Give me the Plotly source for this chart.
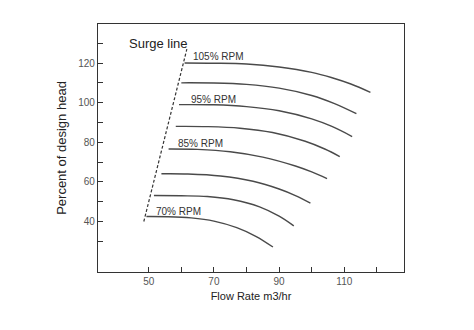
import plotly.graph_objects as go

# Speed curves (flow m3/hr, percent of design head)
curve_105_x = [61.0, 70, 80, 90, 100, 106, 112, 118.0]
curve_105_y = [120.0, 119.9, 119.5, 118.0, 115.3, 112.7, 109.4, 105.2]
curve_100_x = [60.0, 70, 80, 90, 100, 107, 113.7]
curve_100_y = [110.0, 109.9, 109.2, 107.3, 103.6, 99.5, 94.4]
curve_95_x = [59.3, 70, 80, 90, 100, 106, 112.4]
curve_95_y = [99.0, 98.9, 98.0, 95.9, 91.8, 88.1, 82.9]
curve_90_x = [58.3, 68, 78, 88, 98, 104, 108.6]
curve_90_y = [88.0, 87.9, 87.1, 84.9, 80.5, 76.6, 72.8]
curve_85_x = [56.1, 65, 75, 85, 95, 100, 104.7]
curve_85_y = [76.6, 76.4, 75.2, 72.5, 68.0, 65.0, 61.6]
curve_80_x = [53.9, 62, 72, 82, 90, 95, 99.6]
curve_80_y = [64.1, 64.0, 63.0, 60.3, 56.4, 53.1, 49.3]
curve_75_x = [51.6, 60, 68, 76, 84, 90, 94.5]
curve_75_y = [53.1, 53.0, 52.6, 51.0, 47.4, 42.7, 37.8]
curve_70_x = [49.3, 56, 63, 70, 77, 83, 88.1]
curve_70_y = [42.5, 42.4, 41.8, 40.2, 36.9, 32.4, 27.1]

surge_x = [48.5, 61.7]
surge_y = [40.0, 127.0]

rpm_labels = ["105% RPM", "95% RPM", "85% RPM", "70% RPM"]
rpm_label_x = [63.1, 62.3, 58.3, 51.6]
rpm_label_y = [123.3, 101.5, 79.6, 45.1]

x_tickvals = [50, 60, 70, 80, 90, 100, 110, 120]
x_ticktext = ["50", "", "70", "", "90", "", "110", ""]
y_tickvals = [30, 40, 50, 60, 70, 80, 90, 100, 110, 120, 130]
y_ticktext = ["", "40", "", "60", "", "80", "", "100", "", "120", ""]

FONT = "Arial, Liberation Sans, sans-serif"
LINE = "#4a4a4a"

fig = go.Figure()
curves = [
    (curve_105_x, curve_105_y), (curve_100_x, curve_100_y),
    (curve_95_x, curve_95_y), (curve_90_x, curve_90_y),
    (curve_85_x, curve_85_y), (curve_80_x, curve_80_y),
    (curve_75_x, curve_75_y), (curve_70_x, curve_70_y),
]
for cx, cy in curves:
    fig.add_trace(go.Scatter(x=cx, y=cy, mode="lines",
                             line=dict(color=LINE, width=1.4, shape="spline", smoothing=1.0),
                             showlegend=False, hoverinfo="skip"))

fig.add_trace(go.Scatter(x=surge_x, y=surge_y, mode="lines",
                         line=dict(color="#333333", width=1.2, dash="3px,2px"),
                         showlegend=False, hoverinfo="skip"))

for t, lx, ly in zip(rpm_labels, rpm_label_x, rpm_label_y):
    fig.add_annotation(x=lx, y=ly, text=t, showarrow=False, xanchor="left", yanchor="middle",
                       font=dict(family=FONT, size=10, color="#333333"))

fig.add_annotation(x=(158 - 98) / 306, y=(272 - 43) / 248, xref="paper", yref="paper",
                   text="Surge line", showarrow=False, xanchor="center", yanchor="middle",
                   font=dict(family=FONT, size=13, color="#222222"))

axis_common = dict(showline=True, linecolor="#333333", linewidth=1.3, mirror=True,
                   ticks="inside", ticklen=5, tickcolor="#333333", tickwidth=1.2,
                   showgrid=False, zeroline=False,
                   tickfont=dict(family=FONT, size=10, color="#555555"))

fig.update_xaxes(range=[34.45, 128.3], tickvals=x_tickvals, ticktext=x_ticktext,
                 title=dict(text="Flow Rate m3/hr", font=dict(family=FONT, size=11, color="#222222"),
                            standoff=6),
                 **axis_common)
fig.update_yaxes(range=[14.5, 139.7], tickvals=y_tickvals, ticktext=y_ticktext,
                 title=dict(text="Percent of design head", font=dict(family=FONT, size=13, color="#222222"),
                            standoff=8),
                 **axis_common)

fig.update_layout(width=474, height=330, margin=dict(l=98, r=70, t=24, b=58),
                  plot_bgcolor="white", paper_bgcolor="white", showlegend=False)

fig.write_html("out.html")
